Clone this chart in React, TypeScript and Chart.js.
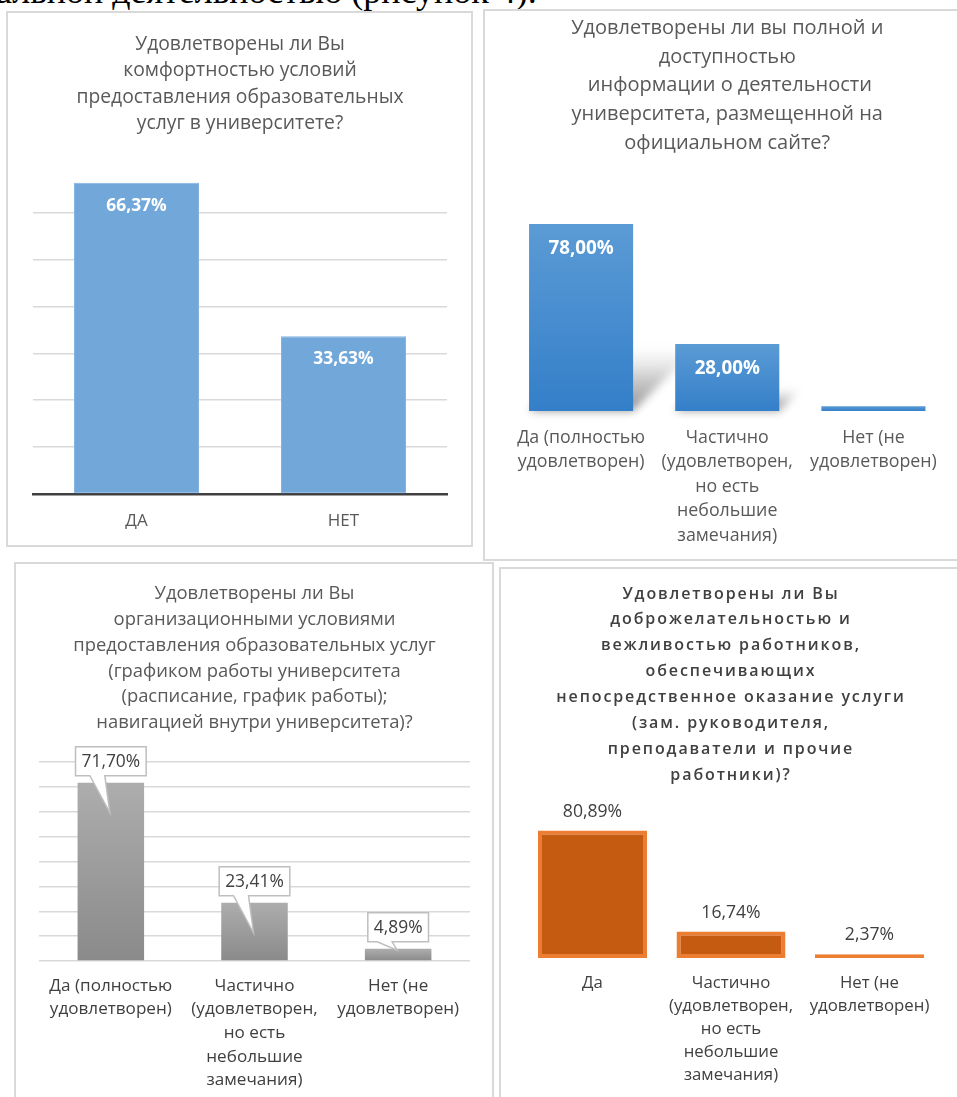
import React, { useEffect, useRef } from 'react';
import { Chart, registerables } from 'chart.js';

Chart.register(...registerables);

const FONT = "'Open Sans', 'Noto Sans', sans-serif";

// ---------- Data ----------
// Chart 1 (top-left)
const comfortTitle = ['Удовлетворены ли Вы', 'комфортностью условий', 'предоставления образовательных', 'услуг в университете?'];
const comfortCategories = ['ДА', 'НЕТ'];
const comfortValues = [66.37, 33.63];

// Chart 2 (top-right)
const siteTitle = ['Удовлетворены ли вы полной и', 'доступностью', ' информации о деятельности', 'университета, размещенной на', 'официальном сайте?'];
const siteCategories = [
  ['Да (полностью', 'удовлетворен)'],
  ['Частично', '(удовлетворен,', 'но есть', 'небольшие', 'замечания)'],
  ['Нет (не', 'удовлетворен)'],
];
const siteValues = [78, 28, 2];
const siteShowLabel = [true, true, false];

// Chart 3 (bottom-left)
const orgTitle = ['Удовлетворены ли Вы', 'организационными условиями', 'предоставления образовательных услуг', '(графиком работы университета', '(расписание, график работы);', 'навигацией внутри университета)?'];
const orgCategories = [
  ['Да (полностью', 'удовлетворен)'],
  ['Частично', '(удовлетворен,', 'но есть', 'небольшие', 'замечания)'],
  ['Нет (не', 'удовлетворен)'],
];
const orgValues = [71.7, 23.41, 4.89];

// Chart 4 (bottom-right)
const staffTitle = ['Удовлетворены ли Вы', 'доброжелательностью и', 'вежливостью работников,', 'обеспечивающих', 'непосредственное оказание услуги', '(зам. руководителя,', 'преподаватели и прочие', 'работники)?'];
const staffCategories = [
  'Да',
  ['Частично', '(удовлетворен,', 'но есть', 'небольшие', 'замечания)'],
  ['Нет (не', 'удовлетворен)'],
];
const staffValues = [80.89, 16.74, 2.37];

const topText = 'альной деятельностью (рисунок 4).';

const fmt = (v: number) => v.toFixed(2).replace('.', ',') + '%';

// ---------- Plugins ----------
const insideLabels = (offset: number, font: string) => ({
  id: 'insideLabels',
  afterDatasetsDraw(chart: any) {
    const ctx = chart.ctx;
    const meta = chart.getDatasetMeta(0);
    const ds = chart.data.datasets[0];
    const show = ds.showLabel;
    ctx.save();
    ctx.font = font;
    ctx.fillStyle = '#ffffff';
    ctx.textAlign = 'center';
    ctx.textBaseline = 'middle';
    meta.data.forEach((el: any, i: number) => {
      if (show && !show[i]) return;
      ctx.fillText(fmt(ds.data[i]), el.x, el.y + offset);
    });
    ctx.restore();
  },
});

const aboveLabels = {
  id: 'aboveLabels',
  afterDatasetsDraw(chart: any) {
    const ctx = chart.ctx;
    const meta = chart.getDatasetMeta(0);
    const ds = chart.data.datasets[0];
    ctx.save();
    ctx.font = `17.6px ${FONT}`;
    ctx.fillStyle = '#404040';
    ctx.textAlign = 'center';
    ctx.textBaseline = 'middle';
    meta.data.forEach((el: any, i: number) => {
      ctx.fillText(fmt(ds.data[i]), el.x, el.y - 19);
    });
    ctx.restore();
  },
};

const calloutLabels = {
  id: 'calloutLabels',
  afterDatasetsDraw(chart: any) {
    const ctx = chart.ctx;
    const meta = chart.getDatasetMeta(0);
    const ds = chart.data.datasets[0];
    ctx.save();
    ctx.font = `17.4px ${FONT}`;
    meta.data.forEach((el: any, i: number) => {
      const text = fmt(ds.data[i]);
      const tw = ctx.measureText(text).width;
      const bw = tw + 12;
      const bh = 29;
      const cx = el.x;
      const bottom = el.y - 7;
      const top = bottom - bh;
      const tipY = Math.min(el.y + 30, el.base - 10);
      ctx.beginPath();
      ctx.moveTo(cx - bw / 2, top);
      ctx.lineTo(cx + bw / 2, top);
      ctx.lineTo(cx + bw / 2, bottom);
      ctx.lineTo(cx - 6, bottom);
      ctx.lineTo(cx - 1, tipY);
      ctx.lineTo(cx - 21, bottom);
      ctx.lineTo(cx - bw / 2, bottom);
      ctx.closePath();
      ctx.fillStyle = '#ffffff';
      ctx.fill();
      ctx.strokeStyle = '#bfbfbf';
      ctx.lineWidth = 1.5;
      ctx.stroke();
      ctx.fillStyle = '#404040';
      ctx.textAlign = 'center';
      ctx.textBaseline = 'middle';
      ctx.fillText(text, cx, top + bh / 2 + 0.5);
    });
    ctx.restore();
  },
};

const barShadow = {
  id: 'barShadow',
  beforeDatasetsDraw(chart: any) {
    const ctx = chart.ctx;
    const meta = chart.getDatasetMeta(0);
    ctx.save();
    ctx.filter = 'blur(4px)';
    meta.data.forEach((el: any) => {
      const h = el.base - el.y;
      if (h < 10) return;
      const l = el.x - el.width / 2;
      const r = el.x + el.width / 2;
      const s = h * 0.35;
      const g = ctx.createLinearGradient(0, el.base, 0, el.base - s);
      g.addColorStop(0, 'rgba(130,130,130,0.9)');
      g.addColorStop(0.5, 'rgba(170,170,170,0.6)');
      g.addColorStop(1, 'rgba(220,220,220,0)');
      ctx.beginPath();
      ctx.moveTo(l, el.base);
      ctx.lineTo(r, el.base);
      ctx.lineTo(r + s, el.base - s);
      ctx.lineTo(l + s, el.base - s);
      ctx.closePath();
      ctx.fillStyle = g;
      ctx.fill();
    });
    ctx.restore();
  },
};

const spacingPlugin = {
  id: 'titleSpacing',
  beforeDraw(chart: any) {
    chart.ctx.letterSpacing = '1.9px';
  },
  beforeDatasetsDraw(chart: any) {
    chart.ctx.letterSpacing = '0px';
  },
};

const gradientFill = (topColor: string, bottomColor: string) => (c: any) => {
  const chart = c.chart;
  const { ctx, chartArea, scales } = chart;
  if (!chartArea || c.type !== 'data' || !scales.y) return bottomColor;
  const top = scales.y.getPixelForValue(c.raw);
  const bottom = scales.y.getPixelForValue(0);
  if (bottom - top < 1) return bottomColor;
  const g = ctx.createLinearGradient(0, top, 0, bottom);
  g.addColorStop(0, topColor);
  g.addColorStop(1, bottomColor);
  return g;
};

// ---------- Configs ----------
const baseOptions = {
  responsive: false,
  animation: false,
  devicePixelRatio: 1,
};

function comfortConfig(): any {
  return {
    type: 'bar',
    data: {
      labels: comfortCategories,
      datasets: [{
        data: comfortValues,
        backgroundColor: '#72a7da',
        borderColor: '#86b4e0',
        borderWidth: 1,
        borderSkipped: false,
        barPercentage: 0.604,
        categoryPercentage: 1,
      }],
    },
    options: {
      ...baseOptions,
      layout: { padding: { left: 24, right: 24, top: 0, bottom: 0 } },
      plugins: {
        legend: { display: false },
        tooltip: { enabled: false },
        title: {
          display: true, text: comfortTitle, color: '#595959',
          font: { family: FONT, size: 19.3, weight: 'normal', lineHeight: '26.4px' },
          padding: { top: 17.3, bottom: 28.8 },
        },
      },
      scales: {
        x: {
          grid: { display: false, drawTicks: false },
          border: { display: true, color: '#404040', width: 2.5 },
          ticks: { color: '#595959', font: { family: FONT, size: 17, lineHeight: '20px' }, padding: 17 },
          afterFit: (s: any) => { s.height = 51; },
        },
        y: {
          min: 0, max: 70,
          ticks: { display: false, stepSize: 10 },
          grid: { color: (c: any) => (c.tick && c.tick.value === 70 ? 'rgba(0,0,0,0)' : '#d9d9d9'), lineWidth: 1.5, drawTicks: false },
          border: { display: false },
          afterFit: (s: any) => { s.width = 0; },
        },
      },
    },
    plugins: [insideLabels(23, `bold 17.4px ${FONT}`)],
  };
}

function siteConfig(): any {
  return {
    type: 'bar',
    data: {
      labels: siteCategories,
      datasets: [{
        data: siteValues,
        showLabel: siteShowLabel,
        backgroundColor: gradientFill('#5b9bd5', '#347fc9'),
        borderWidth: 0,
        barPercentage: 0.712,
        categoryPercentage: 1,
      }],
    },
    options: {
      ...baseOptions,
      layout: { padding: { left: 22, right: 10.5, top: 0, bottom: 0 } },
      plugins: {
        legend: { display: false },
        tooltip: { enabled: false },
        title: {
          display: true, text: siteTitle, color: '#595959',
          font: { family: FONT, size: 20, weight: 'normal', lineHeight: '28.6px' },
          padding: { top: 2.2, bottom: 14.1 },
        },
      },
      scales: {
        x: {
          grid: { display: false, drawTicks: false },
          border: { display: false },
          ticks: { color: '#595959', font: { family: FONT, size: 17.8, lineHeight: '24.6px' }, padding: 14.2 },
          afterFit: (s: any) => { s.height = 147; },
        },
        y: { display: false, min: 0, max: 100 },
      },
    },
    plugins: [barShadow, insideLabels(25, `bold 18.8px ${FONT}`)],
  };
}

function orgConfig(): any {
  return {
    type: 'bar',
    data: {
      labels: orgCategories,
      datasets: [{
        data: orgValues,
        backgroundColor: gradientFill('#adadad', '#8a8a8a'),
        borderWidth: 0,
        barPercentage: 0.463,
        categoryPercentage: 1,
      }],
    },
    options: {
      ...baseOptions,
      layout: { padding: { left: 23, right: 22, top: 0, bottom: 0 } },
      plugins: {
        legend: { display: false },
        tooltip: { enabled: false },
        title: {
          display: true, text: orgTitle, color: '#595959',
          font: { family: FONT, size: 18.4, weight: 'normal', lineHeight: '25.8px' },
          padding: { top: 17.1, bottom: 26.1 },
        },
      },
      scales: {
        x: {
          grid: { display: false, drawTicks: false },
          border: { display: false },
          ticks: { color: '#404040', font: { family: FONT, size: 17.1, lineHeight: '23.6px' }, padding: 13.2 },
          afterFit: (s: any) => { s.height = 136; },
        },
        y: {
          min: 0, max: 80,
          ticks: { display: false, stepSize: 10 },
          grid: { color: '#d9d9d9', lineWidth: 1.5, drawTicks: false },
          border: { display: false },
          afterFit: (s: any) => { s.width = 0; },
        },
      },
    },
    plugins: [calloutLabels],
  };
}

function staffConfig(): any {
  return {
    type: 'bar',
    data: {
      labels: staffCategories,
      datasets: [{
        data: staffValues,
        backgroundColor: '#c55a11',
        borderColor: '#ed7d31',
        borderWidth: 4,
        borderSkipped: false,
        barPercentage: 0.787,
        categoryPercentage: 1,
      }],
    },
    options: {
      ...baseOptions,
      layout: { padding: { left: 22.25, right: 18.25, top: 0, bottom: 0 } },
      plugins: {
        legend: { display: false },
        tooltip: { enabled: false },
        title: {
          display: true, text: staffTitle, color: '#404040',
          font: { family: FONT, size: 16, weight: '600', lineHeight: '25.9px' },
          padding: { top: 12.05, bottom: 12.15 },
        },
      },
      scales: {
        x: {
          grid: { display: false, drawTicks: false },
          border: { display: false },
          ticks: { z: 1, color: '#404040', font: { family: FONT, size: 16.8, lineHeight: '23px' }, padding: 13.5 },
          afterFit: (s: any) => { s.height = 139; },
        },
        y: { display: false, min: 0, max: 100 },
      },
    },
    plugins: [spacingPlugin, aboveLabels],
  };
}

// ---------- Components ----------
type Frame = { left: number; top: number; width: number; height: number };

function ChartCanvas({ frame, make }: { frame: Frame; make: () => any }) {
  const ref = useRef<HTMLCanvasElement>(null);
  useEffect(() => {
    if (!ref.current) return;
    const chart = new Chart(ref.current, make());
    return () => chart.destroy();
  }, []);
  return (
    <canvas
      ref={ref}
      width={frame.width}
      height={frame.height}
      style={{ position: 'absolute', left: frame.left, top: frame.top, width: frame.width, height: frame.height }}
    />
  );
}

function BoxBorder({ frame }: { frame: Frame }) {
  return (
    <div
      style={{
        position: 'absolute', left: frame.left, top: frame.top, width: frame.width, height: frame.height,
        border: '2px solid #d9d9d9', boxSizing: 'border-box',
      }}
    />
  );
}

export default function App() {
  return (
    <div style={{ position: 'absolute', left: 0, top: 0, width: 957, height: 1097, overflow: 'hidden', background: '#ffffff' }}>
      <div
        style={{
          position: 'absolute', left: -4, top: -27, fontFamily: "'Liberation Serif', 'Times New Roman', serif",
          fontSize: 36, lineHeight: '36px', whiteSpace: 'nowrap', color: '#000',
        }}
      >
        {topText}
      </div>

      <BoxBorder frame={{ left: 6, top: 11, width: 467, height: 536 }} />
      <ChartCanvas frame={{ left: 9, top: 14, width: 462, height: 531 }} make={comfortConfig} />

      <BoxBorder frame={{ left: 483, top: 9, width: 480, height: 552 }} />
      <ChartCanvas frame={{ left: 486, top: 12, width: 471, height: 546 }} make={siteConfig} />

      <BoxBorder frame={{ left: 14, top: 562, width: 480, height: 545 }} />
      <ChartCanvas frame={{ left: 16, top: 564, width: 476, height: 533 }} make={orgConfig} />

      <BoxBorder frame={{ left: 499, top: 567, width: 470, height: 540 }} />
      <ChartCanvas frame={{ left: 501, top: 569, width: 456, height: 528 }} make={staffConfig} />
    </div>
  );
}
